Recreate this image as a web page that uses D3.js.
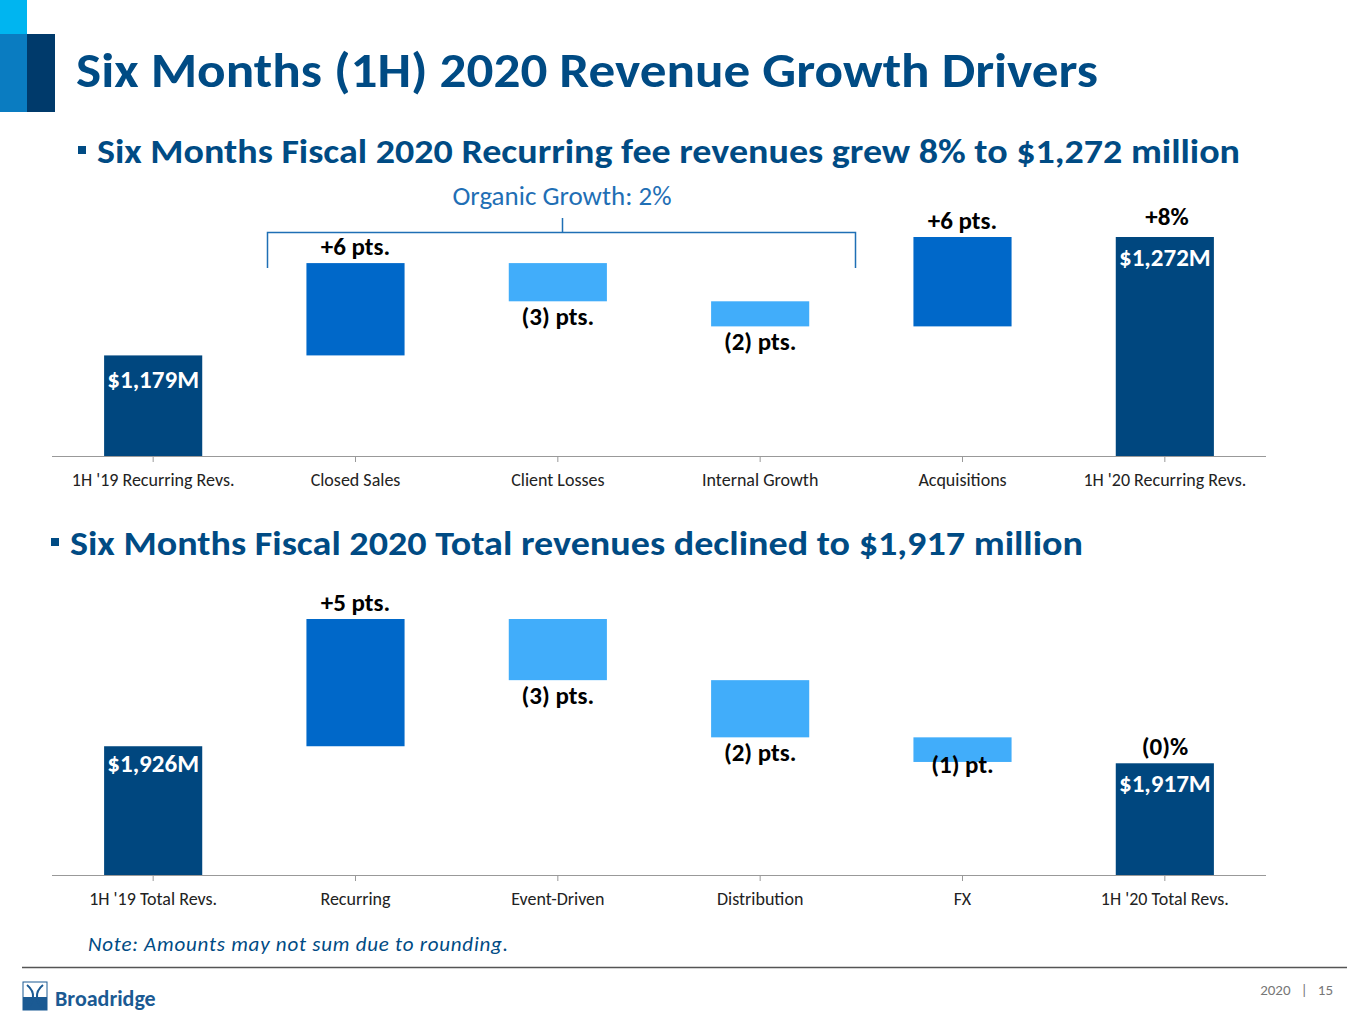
<!DOCTYPE html>
<html lang="en">
<head>
<meta charset="UTF-8">
<title>Six Months (1H) 2020 Revenue Growth Drivers</title>
<script src="https://d3js.org/d3.v7.min.js"></script>
<style>
  body { margin: 0; background: #fff; }
  svg { font-family: Calibri, Carlito, Lato, sans-serif; }
</style>
</head>
<body>
<script>
// top chart: recurring fee revenues ($M)
const recCats = ["1H '19 Recurring Revs.", "Closed Sales", "Client Losses", "Internal Growth", "Acquisitions", "1H '20 Recurring Revs."];
const recStart = 1179, recEnd = 1272;
const recSteps = [72.5, -30, -19.7, 70.2];
const recLabels = ["$1,179M", "+6 pts.", "(3) pts.", "(2) pts.", "+6 pts.", "$1,272M"];

// bottom chart: total revenues ($M)
const totCats = ["1H '19 Total Revs.", "Recurring", "Event-Driven", "Distribution", "FX", "1H '20 Total Revs."];
const totStart = 1926, totEnd = 1917;
const totSteps = [67.2, -32.3, -30.2, -13];
const totLabels = ["$1,926M", "+5 pts.", "(3) pts.", "(2) pts.", "(1) pt.", "$1,917M"];

const DARK = "#00477f", MID = "#0068c9", LIGHT = "#41adfa", NAVY = "#004b84";

const svg = d3.select("body").append("svg").attr("width", 1365).attr("height", 1024);

// corner decoration
svg.append("rect").attr("x", 0).attr("y", 0).attr("width", 27).attr("height", 34).attr("fill", "#00b5f0");
svg.append("rect").attr("x", 0).attr("y", 34).attr("width", 27).attr("height", 78).attr("fill", "#0a7cc1");
svg.append("rect").attr("x", 27).attr("y", 34).attr("width", 28).attr("height", 78).attr("fill", "#003a6b");

svg.append("text").attr("x", 76).attr("y", 87).attr("font-size", 48).attr("font-weight", "bold")
  .attr("fill", NAVY).attr("textLength", 1022).attr("lengthAdjust", "spacingAndGlyphs")
  .text("Six Months (1H) 2020 Revenue Growth Drivers");

function bullet(x, y, txt, len) {
  svg.append("rect").attr("x", x).attr("y", y - 17).attr("width", 8).attr("height", 8).attr("fill", NAVY);
  svg.append("text").attr("x", x + 19).attr("y", y).attr("font-size", 34).attr("font-weight", "bold")
    .attr("fill", NAVY).attr("textLength", len).attr("lengthAdjust", "spacingAndGlyphs").text(txt);
}
bullet(78, 163, "Six Months Fiscal 2020 Recurring fee revenues grew 8% to $1,272 million", 1143);
bullet(51, 555, "Six Months Fiscal 2020 Total revenues declined to $1,917 million", 1013);

const x = d3.scaleBand().domain(d3.range(6)).range([52, 1266]).paddingInner(0.515).paddingOuter(0.2575);

function waterfall(cats, start, end, steps, labels, yBase, yTop, domMin, opts) {
  const y = d3.scaleLinear().domain([domMin, Math.max(end, start + d3.max(d3.cumsum(steps)))]).range([yBase, yTop]);
  const g = svg.append("g");
  const bars = [{ lo: domMin, hi: start, c: DARK }];
  let cur = start;
  steps.forEach(s => {
    const nxt = cur + s;
    bars.push({ lo: Math.min(cur, nxt), hi: Math.max(cur, nxt), c: s > 0 ? MID : LIGHT, up: s > 0 });
    cur = nxt;
  });
  bars.push({ lo: domMin, hi: end, c: DARK });
  g.selectAll("rect").data(bars).join("rect")
    .attr("x", (d, i) => x(i)).attr("width", x.bandwidth())
    .attr("y", d => y(d.hi)).attr("height", d => y(d.lo) - y(d.hi)).attr("fill", d => d.c);

  const ax = g.append("g").attr("transform", `translate(0,${yBase})`)
    .call(d3.axisBottom(x).tickSize(6).tickFormat(i => cats[i]));
  ax.select(".domain").attr("stroke", "#999").attr("d", "M52,0.5H1266");
  ax.selectAll(".tick line").attr("stroke", "#999");
  ax.selectAll(".tick text").attr("font-size", 18).attr("fill", "#222").attr("dy", "1.15em")
    .attr("font-family", "Calibri, Carlito, Lato, sans-serif");

  bars.forEach((d, i) => {
    const cx = x(i) + x.bandwidth() / 2;
    let ty, fill = "#000";
    if (i === 0 || i === 5) {
      ty = y(d.hi) + 33; fill = "#fff";
    } else if (d.up) ty = y(d.hi) - 8;
    else ty = y(d.lo) + 24;
    const t = g.append("text").attr("x", cx).attr("y", ty).attr("text-anchor", "middle")
      .attr("font-size", 25).attr("font-weight", "bold").attr("fill", fill).text(labels[i]);
    if (opts.adj && opts.adj[i]) t.attr("y", ty + opts.adj[i]);
  });
  return y;
}

waterfall(recCats, recStart, recEnd, recSteps, recLabels, 456, 237, 1100, { adj: { 5: -4 } });
svg.append("text").attr("x", 1167).attr("y", 225).attr("text-anchor", "middle").attr("font-size", 25)
  .attr("font-weight", "bold").text("+8%");

waterfall(totCats, totStart, totEnd, totSteps, totLabels, 875, 619, 1858, { adj: { 0: -7, 4: -13, 5: -4 } });
svg.append("text").attr("x", 1165).attr("y", 755).attr("text-anchor", "middle").attr("font-size", 25)
  .attr("font-weight", "bold").text("(0)%");

// organic growth bracket
svg.append("path").attr("d", "M267.5,268V232.5H855.5V268M562.5,232.5V218").attr("fill", "none")
  .attr("stroke", "#1f6fb5").attr("stroke-width", 1.5);
svg.append("text").attr("x", 562).attr("y", 205).attr("text-anchor", "middle").attr("font-size", 27)
  .attr("fill", "#1f6fb5").text("Organic Growth: 2%");

svg.append("text").attr("x", 88).attr("y", 951).attr("font-size", 21).attr("font-style", "italic")
  .attr("fill", NAVY).attr("textLength", 420).text("Note: Amounts may not sum due to rounding.");

svg.append("line").attr("x1", 22).attr("x2", 1347).attr("y1", 967.5).attr("y2", 967.5).attr("stroke", "#555").attr("stroke-width", 1.5);

// logo
svg.append("rect").attr("x", 23).attr("y", 982).attr("width", 24).attr("height", 28).attr("fill", "#fff").attr("stroke", "#1b5a93");
svg.append("rect").attr("x", 23).attr("y", 997).attr("width", 24).attr("height", 13).attr("fill", "#1b5a93");
svg.append("path").attr("d", "M27,985C37,993 33,1003 27,1008M43,985C33,993 37,1003 43,1008").attr("fill", "none").attr("stroke", "#1b5a93").attr("stroke-width", 2);
svg.append("text").attr("x", 55).attr("y", 1006).attr("font-size", 22).attr("font-weight", "bold").attr("fill", "#1b5a93").text("Broadridge");

svg.append("text").attr("x", 1333).attr("y", 995).attr("text-anchor", "end").attr("font-size", 15).attr("fill", "#777")
  .text("2020   |   15").style("white-space", "pre");
</script>
</body>
</html>
